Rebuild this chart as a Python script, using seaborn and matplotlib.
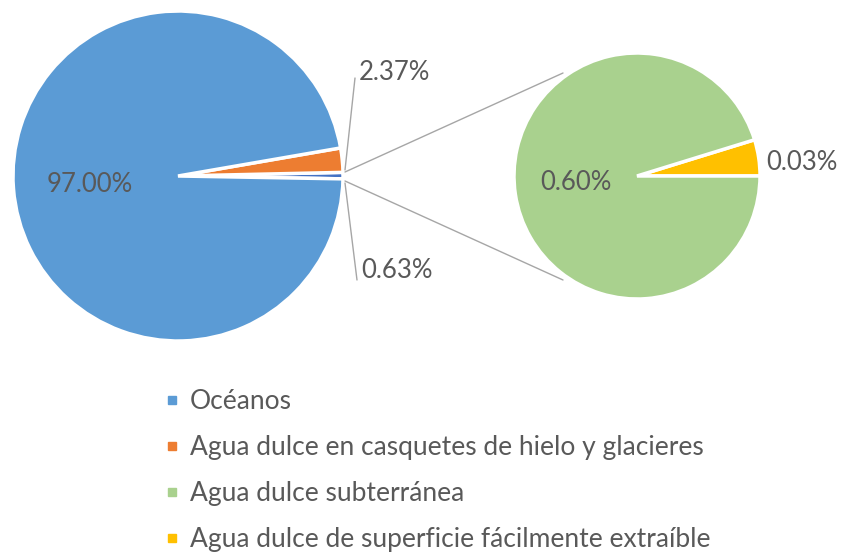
import matplotlib
matplotlib.use("Agg")
import matplotlib.pyplot as plt
from matplotlib.lines import Line2D
import seaborn as sns

# ---- data ----
main_labels = ["Otros", "Agua dulce en casquetes de hielo y glaciares", "Océanos"]
main_values = [0.63, 2.37, 97.00]
sub_values = [0.03, 0.60]
legend_labels = ["Océanos",
                 "Agua dulce en casquetes de hielo y glacieres",
                 "Agua dulce subterránea",
                 "Agua dulce de superficie fácilmente extraíble"]
legend_colors = ["#5B9BD5", "#ED7D31", "#A9D18E", "#FFC000"]
main_colors = ["#4472C4", "#ED7D31", "#5B9BD5"]
sub_colors = ["#FFC000", "#A9D18E"]

sns.set_theme(style="white")
plt.rcParams["font.family"] = ["Lato", "DejaVu Sans"]

W, H = 843, 554
fig = plt.figure(figsize=(W / 100, H / 100), dpi=100)
ax = fig.add_axes([0, 0, 1, 1])
ax.set_xlim(0, W)
ax.set_ylim(0, H)
ax.set_aspect("equal")
ax.axis("off")

def Y(y):
    return H - y

txt = "#595959"
fs = 18.5
lfs = 19
wp = dict(edgecolor="white", linewidth=2.5)

# main pie
ax.pie(main_values, colors=main_colors, center=(178, Y(176)), radius=165,
       startangle=-1, counterclock=True, explode=[0.012, 0.015, 0],
       wedgeprops=wp, frame=True)
# sub pie
ax.pie(sub_values, colors=sub_colors, center=(637, Y(176)), radius=123,
       startangle=0, counterclock=True, explode=[0.04, 0],
       wedgeprops=wp, frame=True)
ax.set_xlim(0, W)
ax.set_ylim(0, H)
ax.axis("off")

line_c = "#A6A6A6"
# connector lines
ax.plot([345, 563], [Y(172), Y(73)], color=line_c, lw=1)
ax.plot([345, 563], [Y(181), Y(280)], color=line_c, lw=1)
# leader lines
ax.plot([355, 345], [Y(78), Y(170)], color=line_c, lw=1)
ax.plot([345, 357], [Y(183), Y(280)], color=line_c, lw=1)

def pct(v):
    return f"{v:.2f}%"

ax.text(90, Y(184), pct(main_values[2]), color=txt, fontsize=fs, ha="center", va="center")
ax.text(359, Y(72), pct(main_values[1]), color=txt, fontsize=fs, ha="left", va="center")
ax.text(361, Y(270), pct(main_values[0]), color=txt, fontsize=fs, ha="left", va="center")
ax.text(576, Y(182), pct(sub_values[1]), color=txt, fontsize=fs, ha="center", va="center")
ax.text(766, Y(162), pct(sub_values[0]), color=txt, fontsize=fs, ha="left", va="center")

handles = [Line2D([0], [0], marker="s", linestyle="none", markersize=6,
                  markerfacecolor=c, markeredgecolor=c) for c in legend_colors]
leg = fig.legend(handles, legend_labels, loc="upper left",
                 bbox_to_anchor=(165 / W, 1 - 389 / H), frameon=False,
                 fontsize=lfs, handlelength=0.5, handletextpad=0.45,
                 labelspacing=0.8, borderaxespad=0, borderpad=0)
for t in leg.get_texts():
    t.set_color(txt)

fig.savefig("out.png", dpi=100)
